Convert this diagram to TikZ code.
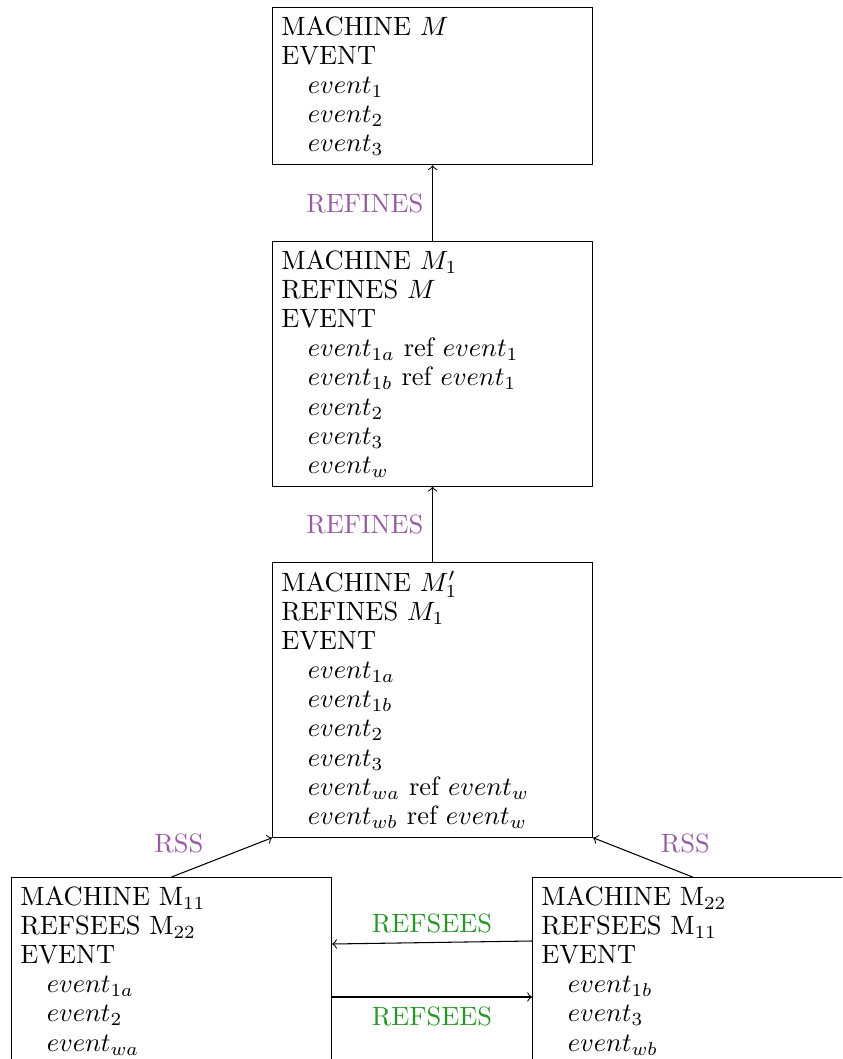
\documentclass[tikz,border=0pt]{standalone}
\usetikzlibrary{calc}
\definecolor{refcol}{RGB}{152,92,162}
\definecolor{seecol}{RGB}{40,150,40}
\begin{document}
\begin{tikzpicture}[x=0.378pt,y=-0.378pt,
  machine/.style={draw, anchor=north west, align=left, text width=121pt-6.67pt,
    inner sep=3.33pt, font=\fontsize{10}{11.02}\selectfont},
  rel/.style={->, line width=0.4pt},
  reflab/.style={text=refcol, font=\fontsize{10}{12}\selectfont},
  seelab/.style={text=seecol, font=\fontsize{10}{12}\selectfont}]
\useasboundingbox (0,0) rectangle (842,1059);
\clip (0,0) rectangle (842,1059);
\node[machine] (A) at (272,7) {MACHINE $M$\\EVENT\\\quad$event_1$\\\quad$event_2$\\\quad$event_3$};
\node[machine] (B) at (272,241) {MACHINE $M_1$\\REFINES $M$\\EVENT\\\quad$event_{1a}$ ref $event_1$\\\quad$event_{1b}$ ref $event_1$\\\quad$event_2$\\\quad$event_3$\\\quad$event_w$};
\node[machine] (C) at (272,562) {MACHINE $M_1'$\\REFINES $M_1$\\EVENT\\\quad$event_{1a}$\\\quad$event_{1b}$\\\quad$event_2$\\\quad$event_3$\\\quad$event_{wa}$ ref $event_w$\\\quad$event_{wb}$ ref $event_w$};
\node[machine] (D) at (11,877) {MACHINE M$_{11}$\\REFSEES M$_{22}$\\EVENT\\\quad$event_{1a}$\\\quad$event_2$\\\quad$event_{wa}$};
\node[machine] (E) at (532,877) {MACHINE M$_{22}$\\REFSEES M$_{11}$\\EVENT\\\quad$event_{1b}$\\\quad$event_3$\\\quad$event_{wb}$};
\draw[rel] (B.north) -- node[midway,left,reflab] {REFINES} (A.south);
\draw[rel] (C.north) -- node[midway,left,reflab] {REFINES} (B.south);
\draw[rel] (D.north) -- node[midway,anchor=south east,inner sep=0pt,xshift=-6.8pt,yshift=1.3pt,reflab] {RSS} (C.south west);
\draw[rel] (E.north) -- node[midway,anchor=south west,inner sep=0pt,xshift=6.6pt,yshift=1.3pt,reflab] {RSS} (C.south east);
\coordinate (e1) at ($(E.north west)+(0,64)$);
\coordinate (d1) at ($(D.north east)+(0,67)$);
\coordinate (d2) at ($(D.north east)+(0,120)$);
\coordinate (e2) at ($(E.north west)+(0,120)$);
\draw[rel] (e1) -- node[midway,above,seelab] {REFSEES} (d1);
\draw[rel] (d2) -- node[midway,below,seelab] {REFSEES} (e2);
\end{tikzpicture}
\end{document}
